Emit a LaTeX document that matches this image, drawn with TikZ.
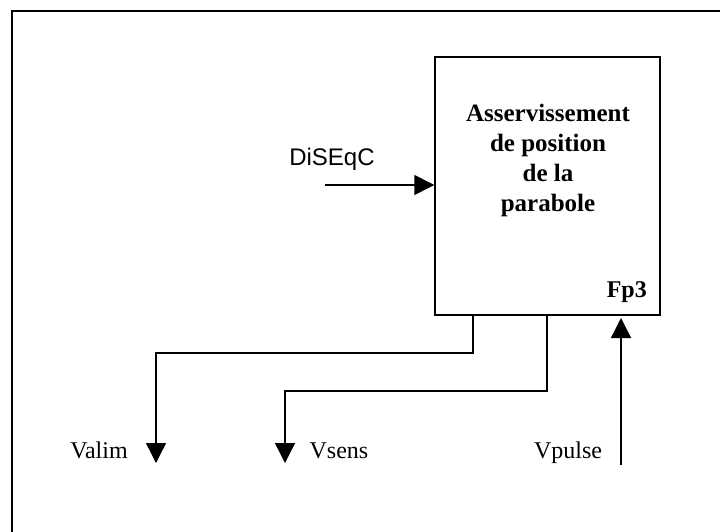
\documentclass[tikz,border=0pt]{standalone}
\usepackage{fontspec}
\setmainfont{Liberation Serif}
\newfontfamily\diseqcfont{Liberation Sans}
\usetikzlibrary{arrows.meta,positioning}
\tikzset{
  flow/.style={line width=1.4pt,-{Triangle[length=20pt,width=20pt]}},
  lead/.style={line width=1.4pt},
  sig/.style={font=\fontsize{24}{26}\selectfont,inner sep=0pt,anchor=base},
}
\begin{document}
\begin{tikzpicture}[x=1pt,y=-1pt]
            \useasboundingbox (0,0) rectangle (720,532);
            % frame
            \draw[lead] (12,532) |- (720,11);
            % block
            \node[draw,lead,minimum width=225pt,minimum height=258pt,inner sep=0pt] (fpbox) at (547.5,186) {};
            \node[font=\bfseries\fontsize{25}{30}\selectfont,align=center] (fptitle) at (548,160) {Asservissement\\de position\\de la\\parabole};
            \node[font=\bfseries\fontsize{24}{26}\selectfont,anchor=base east,inner sep=0pt] (fpname) at (647,297) {Fp3};
            % define point
            \coordinate (diseqcin) at (325,185);
            \coordinate (valimout) at (156,463);
            \coordinate (vsensout) at (285,463);
            \coordinate (vpulsein) at (621,465);
            \coordinate (vpulsetip) at (621,318);
            % labels
            \node[sig,font=\diseqcfont\fontsize{24}{26}\selectfont] (diseqc) at (332,165) {DiSEqC};
            \node[sig] (valim) at (99,458) {Valim};
            \node[sig] (vsens) at (339,458) {Vsens};
            \node[sig] (vpulse) at (568,458) {Vpulse};
            % connectors
            \draw[flow] (diseqcin) -- (fpbox.west |- diseqcin);
            \draw[flow] (fpbox.south -| 473,0) -- (473,353) -| (valimout);
            \draw[flow] (fpbox.south -| 547,0) -- (547,391) -| (vsensout);
            \draw[flow] (vpulsein) -- (vpulsetip);
        \end{tikzpicture}
\end{document}
